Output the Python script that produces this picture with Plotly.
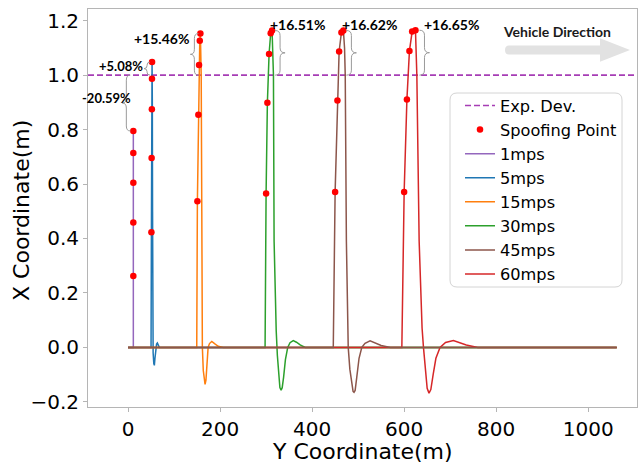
import plotly.graph_objects as go

# ---------------- data (long = "Y Coordinate", lat = "X Coordinate") ----------------
long_1 = [0, 11.5, 11.5]
lat_1 = [0, 0, 0.795]
spoof_long_1 = [11.5, 11.5, 11.5, 11.5, 11.5]
spoof_lat_1 = [0.262, 0.459, 0.605, 0.714, 0.795]

long_5 = [0, 50.0, 50.8, 51.3, 51.8, 52.0, 52.2, 52.8, 53.3, 53.8, 54.5, 56.0, 57.2, 58.5, 60.5, 62.0, 63.7, 65.5, 68.0, 1062]
lat_5 = [0, 0, 0.423, 0.696, 0.875, 0.987, 1.048, 0.9, 0.5, 0.1, -0.02, -0.06, -0.066, -0.04, 0.0, 0.012, 0.016, 0.008, 0, 0]
spoof_long_5 = [50.8, 51.3, 51.8, 52.0, 52.2]
spoof_lat_5 = [0.423, 0.696, 0.875, 0.987, 1.048]

long_15 = [0, 149.3, 150.7, 152.8, 154.3, 155.9, 157.2, 158.2, 159.0, 160.3, 161.5, 163.5, 165.5, 167.4, 169.3, 171.5, 174.0, 177.0, 182.0, 188.0, 196.0, 207.0, 1062]
lat_15 = [0, 0, 0.537, 0.855, 1.037, 1.126, 1.153, 1.1, 1.0, 0.5, 0.0, -0.085, -0.125, -0.136, -0.12, -0.065, 0.0, 0.014, 0.022, 0.014, 0.004, 0, 0]
spoof_long_15 = [150.7, 152.8, 154.3, 155.9, 157.2]
spoof_lat_15 = [0.537, 0.855, 1.037, 1.126, 1.153]

long_30 = [0, 297.8, 300.0, 302.8, 306.5, 310.0, 313.0, 314.8, 316.0, 317.4, 319.5, 322.0, 324.5, 327.5, 330.0, 332.6, 335.0, 338.0, 342.0, 347.0, 352.0, 359.0, 366.0, 374.0, 385.0, 1062]
lat_30 = [0, 0, 0.565, 0.899, 1.078, 1.154, 1.164, 1.1, 1.0, 0.39, 0.2, 0.06, -0.03, -0.11, -0.148, -0.157, -0.148, -0.11, -0.045, 0.0, 0.017, 0.025, 0.019, 0.009, 0, 0]
spoof_long_30 = [300.0, 302.8, 306.5, 310.0, 313.0]
spoof_lat_30 = [0.565, 0.899, 1.078, 1.154, 1.164]

long_45 = [0, 446.0, 450.0, 455.0, 458.7, 463.7, 468.0, 470.5, 472.0, 474.5, 476.5, 478.5, 482.0, 486.0, 489.0, 491.0, 493.5, 497.0, 502.0, 508.0, 515.0, 526.0, 537.0, 550.0, 570.0, 1062]
lat_45 = [0, 0, 0.571, 0.907, 1.087, 1.157, 1.164, 1.1, 1.0, 0.39, 0.12, 0.0, -0.08, -0.14, -0.162, -0.165, -0.158, -0.11, -0.04, 0.0, 0.015, 0.024, 0.017, 0.007, 0, 0]
spoof_long_45 = [450.0, 455.0, 458.7, 463.7, 468.0]
spoof_lat_45 = [0.571, 0.907, 1.087, 1.157, 1.164]

long_60 = [0, 595.0, 600.0, 606.0, 611.5, 617.4, 624.6, 626.3, 627.6, 632.6, 636.0, 639.0, 642.0, 646.0, 650.0, 654.0, 658.0, 663.0, 669.0, 678.0, 690.0, 707.0, 720.0, 735.0, 760.0, 1062]
lat_60 = [0, 0, 0.571, 0.911, 1.089, 1.16, 1.165, 1.1, 1.0, 0.39, 0.18, 0.07, 0.0, -0.09, -0.15, -0.168, -0.155, -0.1, -0.04, 0.0, 0.018, 0.0255, 0.019, 0.009, 0, 0]
spoof_long_60 = [600.0, 606.0, 611.5, 617.4, 624.6]
spoof_lat_60 = [0.571, 0.911, 1.089, 1.16, 1.165]

speed_names = ["1mps", "5mps", "15mps", "30mps", "45mps", "60mps"]
deviation_labels = ["-20.59%", "+5.08%", "+15.46%", "+16.51%", "+16.62%", "+16.65%"]
expected_dev = 1.0
x_range = [-87, 1106]
y_range = [-0.219, 1.243]
x_ticks = [0, 200, 400, 600, 800, 1000]
y_ticks = [-0.2, 0.0, 0.2, 0.4, 0.6, 0.8, 1.0, 1.2]

# ---------------- styles ----------------
colors = ["#9467bd", "#1f77b4", "#ff7f0e", "#2ca02c", "#8c564b", "#d62728"]
FONT = "DejaVu Sans"
ANN_FONT = "Lato"

# plot area in pixels
L, R, T, B = 88, 637, 9, 407
W, H = 639, 466


def px_to_paper(px, py):
    return (px - L) / (R - L), (B - py) / (B - T)


x_per_px = (x_range[1] - x_range[0]) / (R - L)
y_per_px = (y_range[1] - y_range[0]) / (B - T)

fig = go.Figure()

fig.add_trace(go.Scatter(
    x=x_range, y=[expected_dev, expected_dev], mode="lines", name="Exp. Dev.",
    line=dict(color="#a63db5", width=1.6, dash="6px,3px"), legendrank=1))

series = [(long_1, lat_1), (long_5, lat_5), (long_15, lat_15),
          (long_30, lat_30), (long_45, lat_45), (long_60, lat_60)]
draw_order = [0, 1, 2, 3, 5, 4]
for i in draw_order:
    lx, ly = series[i]
    fig.add_trace(go.Scatter(
        x=lx, y=ly, mode="lines", name=speed_names[i],
        line=dict(color=colors[i], width=1.5), legendrank=3 + i))

spoofs = [(spoof_long_1, spoof_lat_1), (spoof_long_5, spoof_lat_5), (spoof_long_15, spoof_lat_15),
          (spoof_long_30, spoof_lat_30), (spoof_long_45, spoof_lat_45), (spoof_long_60, spoof_lat_60)]
all_sx = [v for s in spoofs for v in s[0]]
all_sy = [v for s in spoofs for v in s[1]]
fig.add_trace(go.Scatter(
    x=all_sx, y=all_sy, mode="markers", name="Spoofing Point",
    marker=dict(color="#ff0000", size=6.5), legendrank=2))


def brace_path(xs, y0, y1, d, w, r):
    ym = (y0 + y1) / 2
    pts = [
        f"M {xs - d * w},{y0}",
        f"Q {xs},{y0} {xs},{y0 + r}",
        f"L {xs},{ym - r}",
        f"Q {xs},{ym} {xs + d * w},{ym}",
        f"Q {xs},{ym} {xs},{ym + r}",
        f"L {xs},{y1 - r}",
        f"Q {xs},{y1} {xs - d * w},{y1}",
    ]
    return " ".join(pts)


shapes = []
annotations = []
# brace / label placement (pixel offsets)
brace_cfg = [
    dict(off=-7, d=-1, w=4, r=5, tx=0, ty=32.7, anchor="right", size=13),
    dict(off=-5, d=-1, w=3, r=3, tx=-7, ty=-3.7, anchor="right", size=13),
    dict(off=-6, d=-1, w=4, r=5, tx=-9, ty=-4.7, anchor="right", size=14),
    dict(off=8, d=1, w=5, r=5, tx=-4.3, ty=5.6, anchor="left", size=14),
    dict(off=8, d=1, w=5, r=5, tx=-3.3, ty=5.6, anchor="left", size=14),
    dict(off=9, d=1, w=5, r=5, tx=6.4, ty=5.6, anchor="left", size=14),
]
for i, (sx, sy) in enumerate(spoofs):
    pk_x, pk_y = sx[-1], sy[-1]
    c = brace_cfg[i]
    xs = pk_x + c["off"] * x_per_px
    y0, y1 = sorted([expected_dev, pk_y])
    shapes.append(dict(type="path", xref="x", yref="y",
                       path=brace_path(xs, y0, y1, c["d"], c["w"] * x_per_px, c["r"] * y_per_px),
                       line=dict(color="#9a9a9a", width=1), layer="above"))
    annotations.append(dict(x=pk_x, y=pk_y, xref="x", yref="y", text=deviation_labels[i],
                            showarrow=False, xanchor=c["anchor"], yanchor="middle",
                            xshift=c["tx"], yshift=c["ty"],
                            font=dict(family=ANN_FONT, size=c["size"], color="black", weight="bold")))

# Vehicle direction arrow (decoration, paper coords)
arrow_px = [(509, 45.5), (600, 45.5), (600, 38.3), (630, 50), (600, 61.7), (600, 54.5), (509, 54.5)]
pp = [px_to_paper(*p) for p in arrow_px]
cx0, cy0 = px_to_paper(505, 50)
path = f"M {pp[0][0]},{pp[0][1]} " + " ".join(f"L {a},{b}" for a, b in pp[1:]) + \
       f" Q {cx0},{pp[6][1]} {cx0},{cy0} Q {cx0},{pp[0][1]} {pp[0][0]},{pp[0][1]} Z"
shapes.append(dict(type="path", xref="paper", yref="paper", path=path,
                   fillcolor="#e2e2e2", line=dict(width=0), layer="above"))
tx, ty = px_to_paper(557, 31.5)
annotations.append(dict(x=tx, y=ty, xref="paper", yref="paper", text="Vehicle Direction",
                        showarrow=False, xanchor="center", yanchor="middle",
                        font=dict(family=ANN_FONT, size=14, color="#1a1a1a", weight="bold")))

# axis titles as annotations
ytx, yty = px_to_paper(21, 211)
annotations.append(dict(x=ytx, y=yty, xref="paper", yref="paper", text="X Coordinate(m)",
                        showarrow=False, textangle=-90, xanchor="center", yanchor="middle",
                        font=dict(family=FONT, size=22, color="black")))
xtx, xty = px_to_paper(362, 451)
annotations.append(dict(x=xtx, y=xty, xref="paper", yref="paper", text="Y Coordinate(m)",
                        showarrow=False, xanchor="center", yanchor="middle",
                        font=dict(family=FONT, size=22, color="black")))

# rounded legend frame
lx0, ly0, lx1, ly1, rr = 450, 93, 622, 287, 7
corners = [px_to_paper(*p) for p in [(lx0 + rr, ly0), (lx1 - rr, ly0), (lx1, ly0), (lx1, ly0 + rr),
                                      (lx1, ly1 - rr), (lx1, ly1), (lx1 - rr, ly1), (lx0 + rr, ly1),
                                      (lx0, ly1), (lx0, ly1 - rr), (lx0, ly0 + rr), (lx0, ly0)]]
c = corners
fpath = (f"M {c[0][0]},{c[0][1]} L {c[1][0]},{c[1][1]} Q {c[2][0]},{c[2][1]} {c[3][0]},{c[3][1]} "
         f"L {c[4][0]},{c[4][1]} Q {c[5][0]},{c[5][1]} {c[6][0]},{c[6][1]} "
         f"L {c[7][0]},{c[7][1]} Q {c[8][0]},{c[8][1]} {c[9][0]},{c[9][1]} "
         f"L {c[10][0]},{c[10][1]} Q {c[11][0]},{c[11][1]} {c[0][0]},{c[0][1]} Z")
shapes.append(dict(type="path", xref="paper", yref="paper", path=fpath,
                   fillcolor="rgba(255,255,255,0.8)", line=dict(color="#d4d4d4", width=1), layer="above"))

leg_x, leg_y = px_to_paper(460, 88.5)

axis_common = dict(showgrid=False, zeroline=False, showline=True, mirror=True,
                   linecolor="#b5b5b5", linewidth=1, ticks="outside", ticklen=4,
                   tickcolor="#b5b5b5", tickfont=dict(family=FONT, size=20, color="black"))

fig.update_layout(
    width=W, height=H,
    margin=dict(l=L, r=W - R, t=T, b=H - B, autoexpand=False),
    paper_bgcolor="white", plot_bgcolor="white",
    font=dict(family=FONT, color="black"),
    xaxis=dict(range=x_range, tickvals=x_ticks, **axis_common),
    yaxis=dict(range=y_range, tickvals=y_ticks, tickformat=".1f", **axis_common),
    legend=dict(x=leg_x, y=leg_y, xanchor="left", yanchor="top", bgcolor="rgba(0,0,0,0)",
                borderwidth=0, font=dict(family=FONT, size=16.2, color="black"), traceorder="normal"),
    shapes=shapes, annotations=annotations, showlegend=True,
)

fig.write_html("out.html")
